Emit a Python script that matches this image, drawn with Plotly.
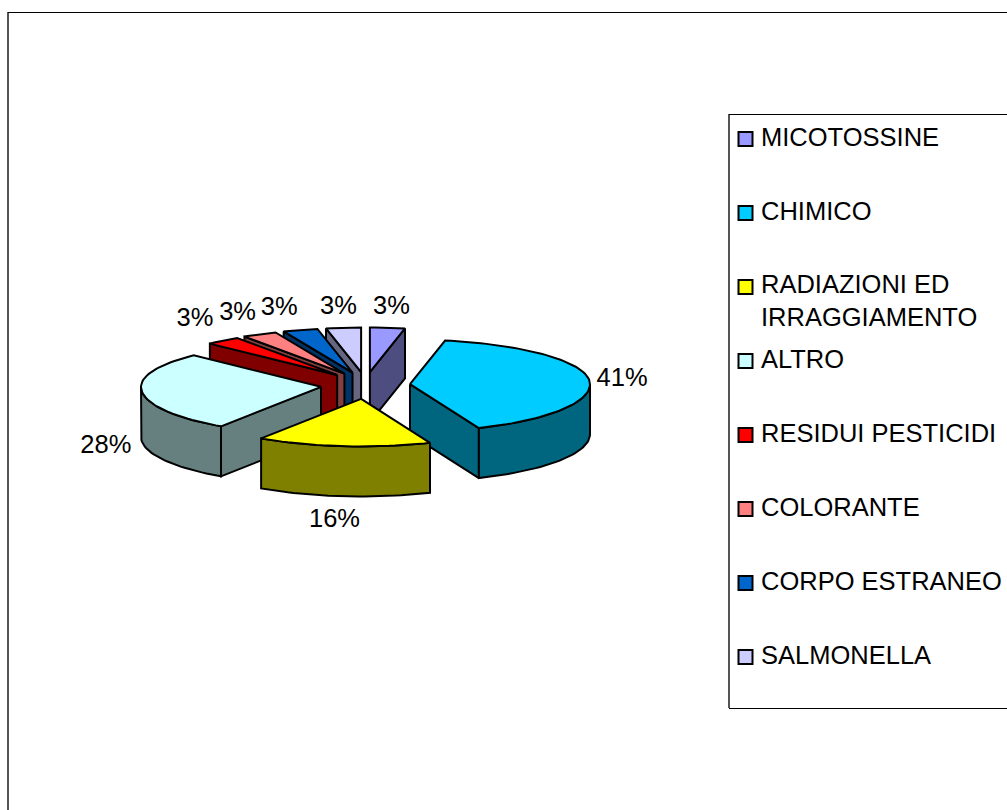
import math
import plotly.graph_objects as go

categories = ["MICOTOSSINE", "CHIMICO", "RADIAZIONI ED<br>IRRAGGIAMENTO", "ALTRO",
              "RESIDUI PESTICIDI", "COLORANTE", "CORPO ESTRANEO", "SALMONELLA"]
values = [1, 13, 5, 9, 1, 1, 1, 1]
top_colors = ["#9999FF", "#00CCFF", "#FFFF00", "#CCFFFF", "#FF0000", "#FF8080", "#0066CC", "#CCCCFF"]
side_colors = ["#4D4D80", "#006680", "#808000", "#668080", "#800000", "#804040", "#003366", "#666680"]

W, H = 1007, 810
CX, CY = 365.5, 385.5
RX, RY_FRONT, RY_BACK = 180, 47.5, 44.5
EX, EY = 44.7, 13.5
DEPTH = 50
FONT = "Liberation Sans, Arial, sans-serif"
FS = 25.5
# back-to-front painting order
ORDER = [7, 0, 6, 5, 4, 1, 3, 2]
# nudges of each percent label from its automatic outside-end position
NUDGE = [(4, -20), (33, 0), (-9, 24), (-36, 5), (-28, -21), (-22, -21), (-21, -21), (-5, -20)]

total = sum(values)
angles = [0]
for v in values:
    angles.append(angles[-1] + 360 * v / total)


def pt(ax, ay, deg, dz=0):
    r = math.radians(deg)
    c = math.cos(r)
    return ax + RX * math.sin(r), ay - (RY_BACK if c > 0 else RY_FRONT) * c + dz


def arc(ax, ay, a, b, dz=0):
    n = max(2, int(abs(b - a) / 2) + 1)
    return [pt(ax, ay, a + (b - a) * i / n, dz) for i in range(n + 1)]


def poly(points, fill):
    xs = [p[0] for p in points] + [points[0][0]]
    ys = [p[1] for p in points] + [points[0][1]]
    return go.Scatter(x=xs, y=ys, mode="lines", fill="toself", fillcolor=fill,
                      line=dict(color="black", width=2, shape="linear"),
                      hoverinfo="skip", showlegend=False)


fig = go.Figure()
label_x, label_y, label_t = [0] * 8, [0] * 8, [""] * 8
for i in ORDER:
    a, b = angles[i], angles[i + 1]
    m = math.radians((a + b) / 2)
    ax, ay = CX + EX * math.sin(m), CY - EY * math.cos(m)
    side, top = side_colors[i], top_colors[i]
    # radial walls that face the viewer
    if 180 <= a < 360:
        e = pt(ax, ay, a)
        fig.add_trace(poly([(ax, ay), e, (e[0], e[1] + DEPTH), (ax, ay + DEPTH)], side))
    if 0 < b <= 180:
        e = pt(ax, ay, b)
        fig.add_trace(poly([(ax, ay), e, (e[0], e[1] + DEPTH), (ax, ay + DEPTH)], side))
    # outer rim, front half only
    lo, hi = max(a, 90), min(b, 270)
    if lo < hi:
        fig.add_trace(poly(arc(ax, ay, lo, hi) + arc(ax, ay, hi, lo, DEPTH), side))
    fig.add_trace(poly([(ax, ay)] + arc(ax, ay, a, b), top))
    ex, ey = pt(ax, ay, (a + b) / 2, DEPTH if 90 < (a + b) / 2 < 270 else 0)
    label_x[i] = ex + NUDGE[i][0]
    label_y[i] = ey + NUDGE[i][1]
    label_t[i] = f"{round(100 * values[i] / total)}%"

fig.add_trace(go.Scatter(x=label_x, y=label_y, text=label_t, mode="text", textposition="middle center",
                         textfont=dict(family=FONT, size=FS, color="black"),
                         hoverinfo="skip", showlegend=False))

# legend
LEG_Y0, LEG_STEP = 137, 74
leg_y = [LEG_Y0 + LEG_STEP * i for i in range(8)]
fig.add_trace(go.Scatter(x=[745.5] * 8, y=[y + 2 for y in leg_y], mode="markers",
                         marker=dict(symbol="square", size=14, color=top_colors,
                                     line=dict(color="black", width=2)),
                         hoverinfo="skip", showlegend=False))
for i, (name, y) in enumerate(zip(categories, leg_y)):
    fig.add_annotation(x=759, y=y + (15 if "<br>" in name else 0), text=name, xref="x", yref="y",
                       xanchor="left", yanchor="middle", align="left", showarrow=False,
                       font=dict(family=FONT, size=FS, color="black"))

border = dict(color="black", width=1)
left = dict(color="#555555", width=2)
fig.add_shape(type="line", x0=8, x1=8, y0=12, y1=H, line=left)
fig.add_shape(type="line", x0=8, x1=W, y0=12.5, y1=12.5, line=border)
fig.add_shape(type="line", x0=729, x1=729, y0=114, y1=708, line=left)
fig.add_shape(type="line", x0=729, x1=W, y0=114.5, y1=114.5, line=border)
fig.add_shape(type="line", x0=729, x1=W, y0=708.5, y1=708.5, line=border)

fig.update_layout(width=W, height=H, margin=dict(l=0, r=0, t=0, b=0),
                  paper_bgcolor="white", plot_bgcolor="white", showlegend=False,
                  xaxis=dict(range=[0, W], visible=False, fixedrange=True),
                  yaxis=dict(range=[H, 0], visible=False, fixedrange=True))
fig.write_html("out.html", config={"displayModeBar": False},
               post_script="document.body.style.margin='0';document.body.style.overflow='hidden';")
